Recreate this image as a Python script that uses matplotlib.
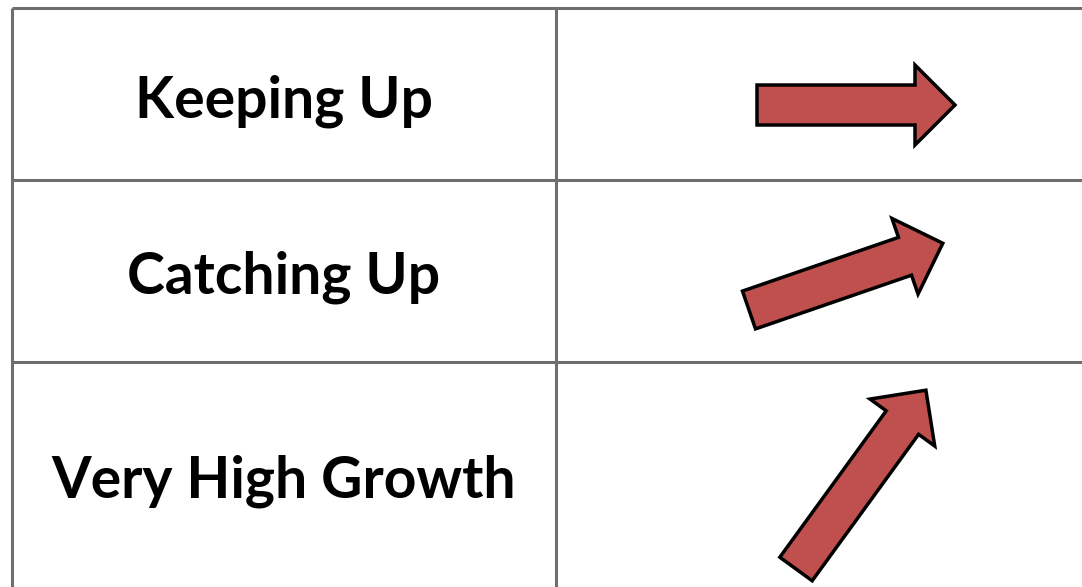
import numpy as np
import matplotlib.pyplot as plt
from matplotlib.patches import FancyArrow

# table content
labels = ['Keeping Up', 'Catching Up', 'Very High Growth']
arrow_angles = [0, 19, 54]        # degrees, counter-clockwise from horizontal
arrow_lengths = [198, 205, 221]   # pixels
arrow_tails = [(757, 105), (749, 310), (796, 569)]

row_edges = [8, 180, 362]
col_divider = 556
left_edge = 12
baselines = [117, 293, 497]

W, H = 1082, 587
fig = plt.figure(figsize=(W / 100, H / 100), dpi=100)
ax = fig.add_axes([0, 0, 1, 1])
ax.set_xlim(0, W)
ax.set_ylim(H, 0)
ax.axis('off')

line_kw = dict(color='#6e6e6e', lw=2.2, solid_capstyle='butt')
for y in row_edges:
    ax.plot([left_edge, W], [y, y], **line_kw)
ax.plot([left_edge, left_edge], [row_edges[0], H], **line_kw)
ax.plot([col_divider, col_divider], [row_edges[0], H], **line_kw)

for label, yb in zip(labels, baselines):
    ax.text((left_edge + col_divider) / 2, yb, label, ha='center', va='baseline',
            fontsize=41, fontweight='bold', family='Lato', color='black')

for (x0, y0), ang, length in zip(arrow_tails, arrow_angles, arrow_lengths):
    a = np.radians(ang)
    dx = length * np.cos(a)
    dy = -length * np.sin(a)
    ax.add_patch(FancyArrow(x0, y0, dx, dy, width=40, head_width=80, head_length=40,
                            length_includes_head=True, facecolor='#C0504D',
                            edgecolor='black', lw=2.5, joinstyle='miter'))

fig.savefig('out.png', dpi=100)
